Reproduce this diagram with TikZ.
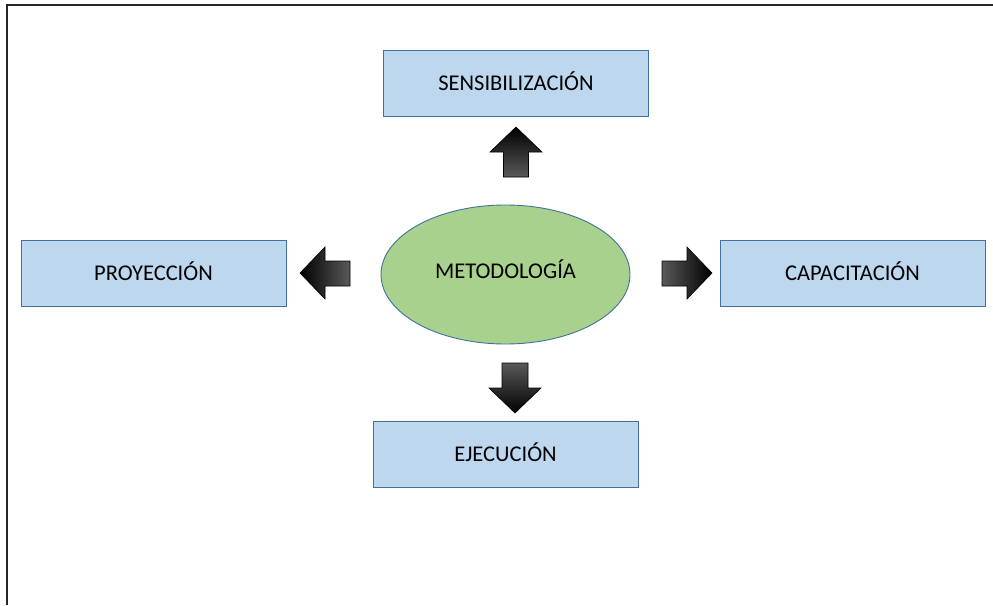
\documentclass[tikz,border=0pt]{standalone}
\usepackage{fontspec}
\setmainfont{Carlito}
\usetikzlibrary{shapes.geometric}
\definecolor{boxfill}{HTML}{BDD7EE}
\definecolor{boxline}{HTML}{41719C}
\definecolor{ellfill}{HTML}{A9D18E}
\tikzset{
  box/.style={draw=boxline, line width=0.9pt, fill=boxfill, minimum width=265pt, minimum height=66pt, inner sep=0pt,
    font=\fontsize{22.5}{26}\selectfont, text height=14.5pt, text depth=0pt},
  blockarrow/.style={draw=black, line width=0.6pt},
}
\begin{document}
\begin{tikzpicture}[x=1pt,y=-1pt]
\useasboundingbox (0,0) rectangle (993,605);
% frame
\draw[line width=2pt, black!85] (7,605) -- (7,5) -- (993,5);
% nodes
\node[box] (sens) at (516,83) {SENSIBILIZACIÓN};
\node[box] (proy) at (153.5,273.5) {PROYECCIÓN};
\node[box] (capa) at (852.5,273.5) {CAPACITACIÓN};
\node[box] (ejec) at (505.5,454) {EJECUCIÓN};
\node[ellipse, draw=boxline, line width=0.9pt, fill=ellfill, minimum width=249pt, minimum height=139pt, inner sep=0pt,
  font=\fontsize{22.5}{26}\selectfont, text height=7.5pt, text depth=0pt] (met) at (505.5,274.5) {METODOLOGÍA};
% block arrows
\coordinate (aup) at (516,152);
\coordinate (adn) at (515,388);
\coordinate (alf) at (325,273);
\coordinate (art) at (687,273);
\draw[blockarrow, top color=black, middle color=black, bottom color=black!65]
  (516,127) -- (542,152) -- (528.5,152) -- (528.5,177) -- (503.5,177) -- (503.5,152) -- (490,152) -- cycle;
\draw[blockarrow, top color=black!65, middle color=black, bottom color=black]
  (515,413) -- (541,388) -- (528,388) -- (528,363) -- (502,363) -- (502,388) -- (489,388) -- cycle;
\draw[blockarrow, left color=black, middle color=black, right color=black!65]
  (300,273) -- (325,247) -- (325,261) -- (350,261) -- (350,286) -- (325,286) -- (325,299) -- cycle;
\draw[blockarrow, left color=black!65, middle color=black, right color=black]
  (712,273) -- (687,247) -- (687,261) -- (662,261) -- (662,286) -- (687,286) -- (687,299) -- cycle;
\end{tikzpicture}
\end{document}
